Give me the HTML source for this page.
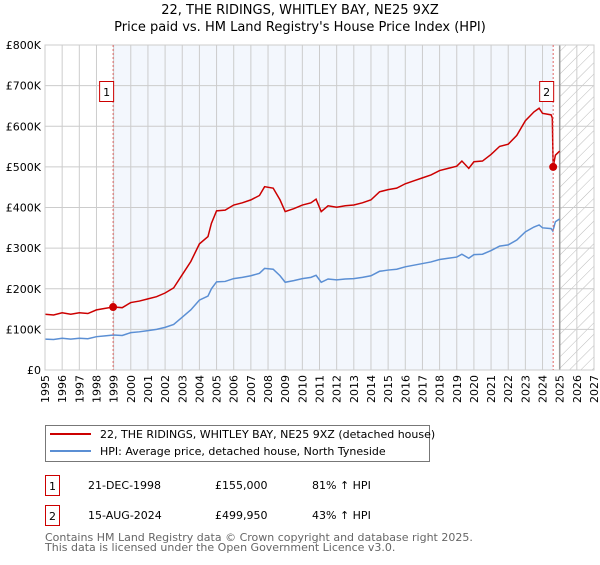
<!DOCTYPE html>
<html><head><meta charset="utf-8"><style>
body{margin:0;background:#fff;font-family:"Liberation Sans","DejaVu Sans",sans-serif;}
svg text{font-family:"DejaVu Sans","Liberation Sans",sans-serif;}
</style></head><body>
<svg id="c" width="600" height="560" viewBox="0 0 600 560" xmlns="http://www.w3.org/2000/svg">
<defs><pattern id="hatch" width="8" height="8" patternUnits="userSpaceOnUse" patternTransform="rotate(45)"><line x1="0" y1="0" x2="0" y2="8" stroke="#bbb" stroke-width="1"/></pattern></defs>
<text x="300" y="14" text-anchor="middle" font-size="13" fill="#000">22, THE RIDINGS, WHITLEY BAY, NE25 9XZ</text>
<text x="300" y="31" text-anchor="middle" font-size="13" fill="#000">Price paid vs. HM Land Registry's House Price Index (HPI)</text>
<g id="plot"></g>
<g>
<rect x="45.5" y="425.5" width="384" height="36" fill="#fff" stroke="#777"/>
<line x1="50" y1="434" x2="91" y2="434" stroke="#cc0000" stroke-width="2"/>
<text x="100" y="438" font-size="11">22, THE RIDINGS, WHITLEY BAY, NE25 9XZ (detached house)</text>
<line x1="50" y1="451" x2="91" y2="451" stroke="#5b8fd4" stroke-width="2"/>
<text x="100" y="455" font-size="11">HPI: Average price, detached house, North Tyneside</text>
</g>
<g font-size="11">
<rect x="45.5" y="475.5" width="14" height="20" fill="#fff" stroke="#cc0000"/><text x="52.5" y="490" text-anchor="middle">1</text>
<text x="88" y="489">21-DEC-1998</text><text x="215" y="489">£155,000</text><text x="312" y="489">81% ↑ HPI</text>
<rect x="45.5" y="505.5" width="14" height="20" fill="#fff" stroke="#cc0000"/><text x="52.5" y="520" text-anchor="middle">2</text>
<text x="88" y="519">15-AUG-2024</text><text x="215" y="519">£499,950</text><text x="312" y="519">43% ↑ HPI</text>
</g>
<text x="45" y="541" font-size="11" fill="#666">Contains HM Land Registry data © Crown copyright and database right 2025.</text>
<text x="45" y="551" font-size="11" fill="#666">This data is licensed under the Open Government Licence v3.0.</text>
</svg>
<script>
const hpiYears=[1995,1995.5,1996,1996.5,1997,1997.5,1998,1998.5,1999,1999.5,2000,2000.5,2001,2001.5,2002,2002.5,2003,2003.5,2004,2004.5,2004.7,2005,2005.5,2006,2006.5,2007,2007.5,2007.8,2008.3,2008.7,2009,2009.5,2010,2010.5,2010.8,2011.1,2011.5,2012,2012.5,2013,2013.5,2014,2014.5,2015,2015.5,2016,2016.5,2017,2017.5,2018,2018.5,2019,2019.3,2019.7,2020,2020.5,2021,2021.5,2022,2022.5,2023,2023.5,2023.8,2024,2024.5,2024.6,2024.75,2025];
const hpiValues=[76,75,78,76,78,77,82,84,86,85,92,94,97,100,105,112,130,148,172,182,200,217,218,225,228,232,238,250,248,232,216,220,225,228,233,216,224,222,224,225,228,232,243,246,248,254,258,262,266,272,275,278,285,275,284,285,294,305,308,320,340,352,357,350,348,342,365,372];
const saleYears=[1998.97,2024.62];
const saleValues=[155000,499950];
const yTicks=[0,100,200,300,400,500,600,700,800];
const yLabels=["£0","£100K","£200K","£300K","£400K","£500K","£600K","£700K","£800K"];
const xTicks=[1995,1996,1997,1998,1999,2000,2001,2002,2003,2004,2005,2006,2007,2008,2009,2010,2011,2012,2013,2014,2015,2016,2017,2018,2019,2020,2021,2022,2023,2024,2025,2026,2027];
const X0=45,X1=594,Y0=370,Y1=45;
const xS=y=>X0+(y-1995)/(2027-1995)*(X1-X0);
const yS=v=>Y0-v/800*(Y0-Y1);
const NS="http://www.w3.org/2000/svg";
const g=document.getElementById('plot');
function mk(t,a,p){const e=document.createElementNS(NS,t);for(const k in a)e.setAttribute(k,a[k]);(p||g).appendChild(e);return e;}
// shading between sales
const sh=mk('rect',{x:xS(saleYears[0]),y:Y1,width:xS(saleYears[1])-xS(saleYears[0]),height:Y0-Y1,fill:'#eef3fc',opacity:0.7});


const hx=mk('rect',{x:xS(2025),y:Y1,width:X1-xS(2025),height:Y0-Y1,fill:'url(#hatch)'});


xTicks.forEach(t=>{const l=mk('line',{x1:xS(t),x2:xS(t),y1:Y1,y2:Y0,stroke:'#ccc'});


const tx=mk('text',{x:0,y:0,'font-size':11,'text-anchor':'end',transform:`translate(${xS(t)+4},${Y0+5}) rotate(-90)`});tx.textContent=t;

});
yTicks.forEach((t,i)=>{const l=mk('line',{x1:X0,x2:X1,y1:yS(t),y2:yS(t),stroke:'#ccc'});


const tx=mk('text',{x:X0-4,y:yS(t)+4,'font-size':11,'text-anchor':'end'});tx.textContent=yLabels[i];

});
const dl=mk('line',{x1:xS(2025),x2:xS(2025),y1:Y1,y2:Y0,stroke:'#999','stroke-width':1.5});


function hpiAt(y){for(let i=0;i<hpiYears.length-1;i++){if(y>=hpiYears[i]&&y<=hpiYears[i+1]){const f=(y-hpiYears[i])/(hpiYears[i+1]-hpiYears[i]);return hpiValues[i]+f*(hpiValues[i+1]-hpiValues[i]);}}return hpiValues[hpiValues.length-1];}
const r1=saleValues[0]/1000/hpiAt(saleYears[0]), r2=saleValues[1]/1000/hpiAt(saleYears[1]);
const hp=mk('polyline',{points:hpiYears.map((y,i)=>xS(y)+','+yS(hpiValues[i])).join(' '),fill:'none',stroke:'#5b8fd4','stroke-width':1.5});


const pts=[];hpiYears.forEach((y,i)=>{if(y<saleYears[1])pts.push([y,hpiValues[i]*r1]);});
pts.push([saleYears[1]-0.05,hpiAt(saleYears[1]-0.05)*r1]);pts.push([saleYears[1],saleValues[1]/1000]);
hpiYears.forEach((y,i)=>{if(y>saleYears[1])pts.push([y,hpiValues[i]*r2]);});
const pl=mk('polyline',{points:pts.map(p=>xS(p[0])+','+yS(p[1])).join(' '),fill:'none',stroke:'#cc0000','stroke-width':1.5});


mk('rect',{x:X0,y:Y1,width:X1-X0,height:Y0-Y1,fill:'none',stroke:'#ccc'});
saleYears.forEach((y,i)=>{
const vl=mk('line',{x1:xS(y),x2:xS(y),y1:Y1,y2:Y0,stroke:'#e06666','stroke-dasharray':'2,2'});


const c=mk('circle',{cx:xS(y),cy:yS(saleValues[i]/1000),r:4,fill:'#cc0000'});


const b=mk('rect',{x:xS(y)-13.5,y:81.5,width:14,height:20,fill:'#fff',stroke:'#cc0000'});


const t=mk('text',{x:xS(y)-6.5,y:96,'font-size':11,'text-anchor':'middle'});t.textContent=i+1;


});
</script>
</body></html>
